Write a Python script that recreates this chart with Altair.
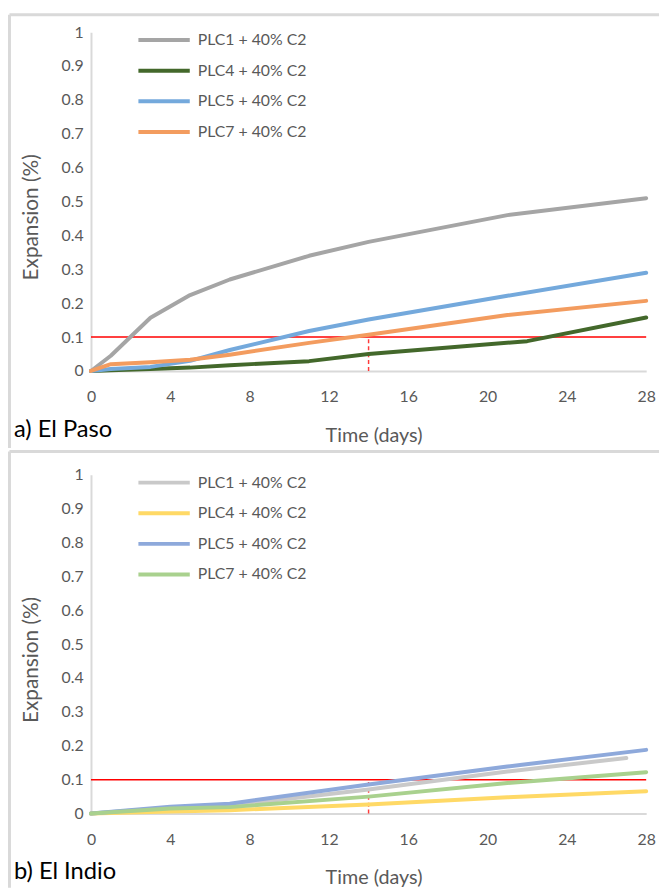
import altair as alt
import pandas as pd

FONT = "Lato"
series_names = ["PLC1 + 40% C2", "PLC4 + 40% C2", "PLC5 + 40% C2", "PLC7 + 40% C2"]

# a) El Paso
a_plc1_days = [0, 1, 3, 5, 7, 11, 14, 21, 28]
a_plc1_exp = [0, 0.045, 0.157, 0.224, 0.27, 0.34, 0.381, 0.46, 0.51]
a_plc4_days = [0, 1, 3, 5, 7, 11, 14, 22, 28]
a_plc4_exp = [0, 0.002, 0.006, 0.01, 0.017, 0.029, 0.05, 0.088, 0.158]
a_plc5_days = [0, 1, 3, 5, 7, 11, 14, 21, 28]
a_plc5_exp = [0, 0.006, 0.012, 0.03, 0.062, 0.118, 0.152, 0.222, 0.29]
a_plc7_days = [0, 1, 3, 5, 7, 11, 14, 21, 28]
a_plc7_exp = [0, 0.02, 0.026, 0.033, 0.048, 0.083, 0.107, 0.165, 0.207]
a_colors = ["#A5A5A5", "#43682B", "#74A9DC", "#F39C5F"]

# b) El Indio
b_plc1_days = [0, 4, 7, 14, 21, 27]
b_plc1_exp = [0, 0.017, 0.024, 0.071, 0.124, 0.164]
b_plc4_days = [0, 4, 7, 14, 21, 28]
b_plc4_exp = [0, 0.006, 0.01, 0.027, 0.048, 0.066]
b_plc5_days = [0, 4, 7, 14, 21, 28]
b_plc5_exp = [0, 0.02, 0.029, 0.086, 0.139, 0.188]
b_plc7_days = [0, 4, 7, 14, 21, 28]
b_plc7_exp = [0, 0.015, 0.019, 0.05, 0.09, 0.122]
b_colors = ["#C9C9C9", "#FFD966", "#8EA9DB", "#A9D18E"]

limit_exp = 0.1
limit_day = 14
x_ticks = [0, 4, 8, 12, 16, 20, 24, 28]
y_ticks = [0, 0.1, 0.2, 0.3, 0.4, 0.5, 0.6, 0.7, 0.8, 0.9, 1.0]

W, H = 562, 343
BORDER = "#D9D9D9"
TXT = "#595959"


def long_df(days_list, exp_list):
    rows = []
    for k, (name, days, exps) in enumerate(zip(series_names, days_list, exp_list)):
        for d, e in zip(days, exps):
            rows.append({"series": name, "k": k, "day": d, "exp": e})
    return pd.DataFrame(rows)


def panel(df, colors, label, lab_pad, title_y, label_y, top_y, bottom_y):
    one = pd.DataFrame({"z": [0]})
    x_enc = alt.X("day:Q", scale=alt.Scale(domain=[0, 28], nice=False),
                  axis=alt.Axis(values=x_ticks, grid=False, ticks=False, tickSize=0,
                                domainColor=BORDER, domainWidth=2, labelColor=TXT,
                                labelFont=FONT, labelFontSize=16, labelPadding=lab_pad,
                                labelFlush=False, labelOverlap=False,
                                titleFont=FONT, titleFontSize=20,
                                titleColor=TXT, titleFontWeight="normal",
                                titleX=286, titleY=title_y, titleBaseline="middle",
                                titleAlign="center"),
                  title="Time (days)")
    y_enc = alt.Y("exp:Q", scale=alt.Scale(domain=[0, 1], nice=False),
                  axis=alt.Axis(values=y_ticks, format=".1~f", grid=False, ticks=False,
                                tickSize=0, domainColor=BORDER, domainWidth=2,
                                labelColor=TXT, labelFont=FONT, labelFontSize=16,
                                labelPadding=8, labelOverlap=False,
                                titleFont=FONT, titleFontSize=21,
                                titleColor=TXT, titleFontWeight="normal",
                                titleX=-60, titleY=187, titleAngle=270,
                                titleBaseline="middle", titleAlign="center"),
                  title="Expansion (%)")

    limit_line = alt.Chart(pd.DataFrame({"exp": [limit_exp]})).mark_rule(
        color="#FF0000", strokeWidth=1.5).encode(y=y_enc)
    dash_line = alt.Chart(pd.DataFrame({"day": [limit_day], "exp": [0], "exp2": [limit_exp]})).mark_rule(
        color="#FF3B3B", strokeWidth=1.5, strokeDash=[4, 3]).encode(
        x=x_enc, y=y_enc, y2="exp2:Q")

    lines = alt.Chart(df).mark_line(strokeWidth=4, strokeCap="round", strokeJoin="round").encode(
        x=x_enc, y=y_enc,
        color=alt.Color("series:N", scale=alt.Scale(domain=series_names, range=colors),
                        legend=alt.Legend(orient="none", legendX=59, legendY=-7, title=None,
                                          symbolType="M-2,0H2", symbolStrokeWidth=4,
                                          symbolSize=676, labelFont=FONT, labelFontSize=16,
                                          labelColor=TXT, labelOffset=19, rowPadding=8)),
        order="k:Q",
        detail="series:N",
    )

    text = alt.Chart(pd.DataFrame({"t": [label]})).mark_text(
        align="left", baseline="middle", font=FONT, fontSize=24, color="#000000").encode(
        text="t:N", x=alt.value(-78), y=alt.value(label_y))

    top = alt.Chart(one).mark_rule(color=BORDER, strokeWidth=3).encode(
        x=alt.value(-82.5), x2=alt.value(575), y=alt.value(top_y))
    left = alt.Chart(one).mark_rule(color=BORDER, strokeWidth=3).encode(
        x=alt.value(-82.5), y=alt.value(top_y), y2=alt.value(bottom_y))
    layers = [top, left]
    if bottom_y < 400:
        bottom = alt.Chart(one).mark_rule(color=BORDER, strokeWidth=3).encode(
            x=alt.value(-82.5), x2=alt.value(575), y=alt.value(bottom_y))
        layers.append(bottom)

    return alt.layer(*layers, limit_line, dash_line, lines, text).properties(width=W, height=H)


df_a = long_df([a_plc1_days, a_plc4_days, a_plc5_days, a_plc7_days],
               [a_plc1_exp, a_plc4_exp, a_plc5_exp, a_plc7_exp])
df_b = long_df([b_plc1_days, b_plc4_days, b_plc5_days, b_plc7_days],
               [b_plc1_exp, b_plc4_exp, b_plc5_exp, b_plc7_exp])

pa = panel(df_a, a_colors, "a) El Paso", 18, 65, H + 60, -17.5, 421)
pb = panel(df_b, b_colors, "b) El Indio", 18, 65, H + 59, -23.5, 418)

chart = alt.concat(pa, pb, columns=1, spacing=0, align="each").resolve_scale(
    color="independent").properties(padding=0, background="white").configure_view(stroke=None)

chart.save("out.html", embed_options={"renderer": "svg", "actions": False})
